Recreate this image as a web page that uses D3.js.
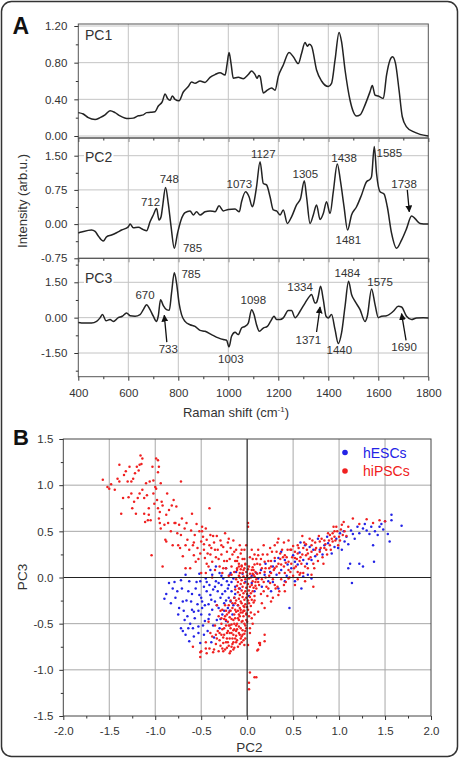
<!DOCTYPE html>
<html>
<head>
<meta charset="utf-8">
<script src="https://cdn.jsdelivr.net/npm/d3@7"></script>
<style>
  body { margin: 0; background: #fff; }
  svg { display: block; font-family: "Liberation Sans", Arial, sans-serif; }
</style>
</head>
<body>
<svg id="fig" width="461" height="759"></svg>
<script>
// ---- spectra: [Raman shift (cm-1), loading] ----
const pc1 = [[400,0.255],[420,0.24],[440,0.20],[467,0.18],[487,0.20],[507,0.23],[527,0.275],[547,0.255],[567,0.22],[600,0.19],[620,0.195],[640,0.22],[660,0.23],[673,0.255],[690,0.258],[707,0.265],[720,0.327],[736,0.375],[747,0.458],[757,0.41],[767,0.39],[776,0.436],[787,0.40],[803,0.385],[820,0.48],[840,0.54],[853,0.59],[867,0.575],[887,0.60],[907,0.585],[927,0.64],[947,0.67],[967,0.69],[987,0.665],[995,0.78],[1003,0.91],[1011,0.79],[1020,0.63],[1040,0.64],[1060,0.625],[1080,0.67],[1093,0.71],[1107,0.67],[1115,0.63],[1122,0.66],[1127,0.65],[1140,0.47],[1156,0.50],[1173,0.525],[1187,0.50],[1200,0.65],[1220,0.775],[1243,0.91],[1260,0.865],[1280,0.79],[1293,0.90],[1307,1.02],[1316,0.98],[1324,1.0],[1333,0.98],[1353,0.72],[1373,0.60],[1400,0.54],[1413,0.575],[1427,0.83],[1443,1.13],[1453,1.03],[1467,0.72],[1487,0.39],[1500,0.265],[1513,0.218],[1527,0.23],[1547,0.34],[1567,0.484],[1576,0.55],[1587,0.447],[1600,0.436],[1620,0.41],[1633,0.665],[1647,0.83],[1657,0.865],[1669,0.79],[1683,0.50],[1696,0.21],[1713,0.10],[1740,0.047],[1767,0.018],[1800,0.0]];

const pc2 = [[400,-0.195],[413,-0.175],[453,-0.13],[467,-0.16],[480,-0.26],[500,-0.37],[513,-0.28],[533,-0.24],[553,-0.19],[573,-0.13],[600,-0.06],[607,0.0],[620,-0.08],[640,-0.07],[660,-0.12],[673,-0.146],[687,0.05],[700,0.2],[713,0.34],[723,0.09],[731,0.16],[737,0.38],[749,0.80],[760,0.45],[771,-0.05],[784,-0.53],[797,-0.2],[811,0.09],[827,0.25],[847,0.29],[860,0.2],[873,0.27],[887,0.2],[907,0.27],[927,0.29],[947,0.27],[963,0.40],[980,0.29],[1000,0.32],[1027,0.33],[1044,0.27],[1053,0.49],[1069,0.71],[1083,0.6],[1096,0.38],[1100,0.42],[1113,0.82],[1127,1.37],[1140,0.89],[1153,0.86],[1167,0.6],[1180,0.31],[1193,0.29],[1207,0.2],[1220,0.31],[1236,0.015],[1253,0.16],[1273,0.42],[1289,0.56],[1304,0.95],[1313,0.6],[1327,0.015],[1340,0.2],[1353,0.42],[1367,0.1],[1380,0.23],[1393,0.49],[1407,0.23],[1420,0.71],[1436,1.32],[1449,0.93],[1463,0.38],[1477,-0.13],[1493,0.2],[1513,0.38],[1533,0.64],[1553,0.93],[1567,0.98],[1573,1.04],[1584,1.70],[1593,1.11],[1607,0.71],[1623,0.66],[1636,0.38],[1653,-0.2],[1673,-0.53],[1693,-0.35],[1713,-0.1],[1733,0.18],[1747,0.12],[1767,0.015],[1800,0.0]];

const pc3 = [[400,-0.21],[413,-0.23],[453,-0.23],[473,-0.16],[487,-0.01],[497,0.13],[511,-0.13],[527,-0.08],[540,-0.16],[560,0.0],[576,0.06],[593,0.2],[607,0.08],[627,0.06],[647,0.13],[660,0.34],[673,0.55],[687,0.34],[700,0.06],[713,-0.16],[720,0.08],[729,0.76],[740,0.51],[753,0.34],[764,0.31],[773,1.05],[784,1.9],[793,1.47],[803,0.62],[813,0.13],[827,-0.16],[847,-0.3],[867,-0.37],[887,-0.54],[907,-0.58],[933,-0.72],[960,-0.86],[980,-0.93],[993,-0.96],[1003,-1.24],[1013,-0.79],[1027,-0.62],[1040,-0.72],[1053,-0.44],[1067,-0.37],[1080,-0.23],[1093,0.34],[1103,0.13],[1113,-0.3],[1124,-0.58],[1140,-0.44],[1156,-0.37],[1169,-0.16],[1183,0.06],[1193,-0.08],[1207,-0.08],[1220,-0.01],[1240,0.3],[1253,0.3],[1267,0.0],[1287,0.27],[1307,0.62],[1327,0.93],[1333,0.98],[1347,0.62],[1353,0.65],[1360,0.9],[1369,1.33],[1380,0.76],[1391,0.06],[1400,-0.01],[1413,0.13],[1427,-0.51],[1440,-1.1],[1453,-0.65],[1467,0.48],[1481,1.54],[1493,0.98],[1507,0.69],[1527,0.34],[1547,-0.16],[1556,0.06],[1573,1.22],[1587,0.55],[1600,0.0],[1613,0.06],[1633,0.08],[1660,0.27],[1680,0.48],[1693,0.45],[1713,0.06],[1733,-0.08],[1753,-0.01],[1780,0.0],[1800,-0.01]];

// peak labels, placed in data space [text, shift, loading]
const pc2Peaks = [['712',689,0.49],['748',764,0.99],['785',857,-0.53],['1073',1044,0.89],['1127',1140,1.53],['1305',1308,1.11],['1438',1463,1.46],['1481',1480,-0.34],['1585',1644,1.57],['1738',1703,0.88]];
const pc3Peaks = [['670',667,0.95],['733',760,-1.32],['785',851,1.87],['1003',1010,-1.74],['1098',1100,0.74],['1334',1287,1.30],['1371',1320,-0.94],['1440',1444,-1.39],['1484',1476,1.9],['1575',1607,1.51],['1690',1703,-1.25]];
// arrows [from shift, from loading, to shift, to loading]
const pc2Arrows = [[1716,0.75,1724,0.27]];
const pc3Arrows = [[754,-1.04,744,0.1],[1353,-0.61,1367,0.45],[1711,-0.96,1693,0.17]];

// ---- scores: [PC2, PC3] ----
const hescPts = [[1.57,0.68],[1.57,0.62],[1.68,0.56],[1.50,0.61],[1.44,0.55],[1.39,0.50],[1.35,0.55],[1.30,0.51],[1.26,0.53],[1.22,0.48],[1.42,0.46],[1.53,0.47],[1.55,0.39],[1.37,0.35],[1.38,0.17],[1.26,0.12],[1.22,0.15],[1.12,0.15],[1.10,0.10],[1.14,-0.06],[1.17,0.42],[1.06,0.39],[1.03,0.30],[0.99,0.32],[0.95,0.33],[0.92,0.26],[0.84,0.35],[0.79,0.30],[0.74,0.23],[0.70,0.19],[0.63,0.35],[0.61,0.19],[0.55,0.14],[0.52,0.17],[0.48,0.10],[0.46,-0.33],[0.41,0.19],[0.37,0.08],[0.34,0.21],[0.32,0.03],[0.28,0.12],[0.25,0.06],[0.23,-0.04],[0.19,0.03],[0.16,-0.10],[0.12,-0.01],[0.08,-0.15],[0.05,-0.06],[0.70,-0.01],[0.61,0.01],[0.59,-0.12],[0.66,0.03],[0.52,-0.04],[0.41,-0.04],[0.34,-0.12],[0.26,-0.15],[0.37,0.28],[0.77,0.42],[0.88,0.37],[1.01,0.48],[1.13,0.51],
  [1.05,0.50],[1.08,0.44],[1.15,0.47],[1.20,0.55],[1.28,0.58],[1.33,0.47],[1.46,0.58],[1.48,0.52],[1.10,0.36],[0.97,0.42],
  [0.20,0.15],[0.30,0.18],[0.44,0.14],[0.50,0.24],[0.57,0.27],[0.65,0.15],[0.72,0.30],[0.82,0.25],[0.87,0.44],[0.15,0.08],[0.10,0.05],[0.28,-0.05],[0.43,0.02],[0.58,0.38],[0.68,0.33],
  [-0.85,-0.06],[-0.90,-0.23],[-0.81,-0.12],[-0.76,-0.15],[-0.74,-0.33],[-0.72,-0.55],[-0.70,-0.58],[-0.67,-0.62],[-0.68,-0.46],[-0.65,-0.42],[-0.64,-0.15],[-0.63,-0.04],[-0.61,-0.26],[-0.59,-0.55],[-0.58,-0.37],[-0.56,-0.12],[-0.54,-0.29],[-0.53,-0.53],[-0.52,-0.19],[-0.51,-0.04],[-0.50,-0.40],[-0.49,-0.33],[-0.49,-0.26],[-0.47,-0.10],[-0.46,-0.47],[-0.45,-0.01],[-0.44,-0.15],[-0.43,-0.58],[-0.42,-0.29],[-0.41,-0.08],[-0.41,-0.40],[-0.40,-0.19],[-0.38,0.03],[-0.38,-0.35],[-0.37,-0.13],[-0.36,-0.65],[-0.35,-0.26],[-0.34,-0.04],[-0.33,-0.46],[-0.32,-0.15],[-0.31,-0.33],[-0.30,0.05],[-0.30,-0.55],[-0.29,-0.22],[-0.28,-0.08],[-0.27,-0.40],[-0.26,-0.01],[-0.25,-0.28],[-0.24,-0.15],[-0.23,-0.47],[-0.22,-0.04],[-0.21,-0.33],[-0.20,-0.22],[-0.20,-0.08],[-0.19,0.03],[-0.18,-0.26],[-0.17,-0.15],[-0.16,-0.40],[-0.15,-0.01],[-0.14,-0.22],[-0.13,-0.10],[-0.12,0.06],[-0.70,-0.26],[-0.78,-0.22],[-0.58,-0.64],[-0.63,-0.69],[-0.67,0.03],[-0.72,-0.03],[-0.34,0.12],[-0.23,0.10],[-0.18,0.05],
  [-0.08,-0.12],[-0.05,0.04],[0.02,-0.20],[-0.10,-0.30],[0.05,0.02],[-0.02,-0.05],[-0.51,-0.71],[-0.39,-0.70],
  [-0.88,-0.18],[-0.83,-0.28],[-0.79,-0.05],[-0.75,-0.40],[-0.71,-0.12],[-0.69,-0.36],[-0.66,-0.25],[-0.62,-0.50],[-0.60,-0.18],[-0.57,-0.44],[-0.55,-0.05],[-0.53,-0.36],[-0.50,-0.22],[-0.48,-0.52],[-0.46,-0.30],[-0.44,-0.05],[-0.42,-0.45],[-0.39,-0.24],[-0.37,-0.52],[-0.35,-0.10],[-0.33,-0.30],[-0.31,-0.06],[-0.29,-0.45],[-0.27,-0.18],[-0.25,-0.36],[-0.23,-0.25],[-0.21,-0.12],[-0.19,-0.36],[-0.17,-0.05],[-0.15,-0.30],[-0.13,-0.18],[-0.47,-0.62],[-0.53,-0.60],[-0.60,-0.35],[-0.64,-0.55],[-0.40,0.08],[-0.28,0.02],[-0.52,0.04]];

const hipscPts = [[-1.57,1.06],[-1.52,0.98],[-1.50,0.96],[-1.48,1.01],[-1.44,0.95],[-1.41,1.07],[-1.39,1.22],[-1.39,1.04],[-1.37,0.69],[-1.35,0.86],[-1.34,1.11],[-1.32,1.15],[-1.30,1.04],[-1.29,0.87],[-1.28,1.20],[-1.26,1.04],[-1.26,0.91],[-1.25,0.75],[-1.24,1.07],[-1.23,0.82],[-1.22,1.13],[-1.21,0.69],[-1.20,1.20],[-1.19,0.86],[-1.18,1.16],[-1.17,0.91],[-1.17,1.22],[-1.16,1.32],[-1.15,1.23],[-1.14,1.29],[-1.14,0.95],[-1.12,0.86],[-1.12,0.69],[-1.11,0.60],[-1.10,1.02],[-1.09,0.89],[-1.08,0.62],[-1.07,0.68],[-1.07,0.75],[-1.06,1.04],[-1.05,0.62],[-1.04,0.24],[-1.03,1.20],[-1.02,1.05],[-1.02,0.91],[-1.01,0.80],[-1.00,0.98],[-0.99,1.29],[-0.99,0.96],[-0.98,0.84],[-0.97,0.75],[-0.97,1.14],[-0.97,1.27],[-0.96,1.20],[-0.96,0.64],[-0.95,0.59],[-0.95,0.71],[-0.94,1.02],[-0.94,0.53],[-0.93,0.82],[-0.92,0.78],[-0.92,0.12],[-0.90,0.57],[-0.89,0.41],[-0.88,0.68],[-0.88,0.39],[-0.87,0.91],[-0.86,0.59],[-0.85,0.73],[-0.83,0.50],[-0.82,0.78],[-0.81,0.35],[-0.80,0.84],[-0.79,0.59],[-0.78,0.59],[-0.77,0.77],[-0.76,0.48],[-0.75,0.35],[-0.74,0.57],[-0.73,0.32],[-0.72,1.04],[-0.72,0.46],[-0.71,0.64],[-0.70,0.23],[-0.68,0.53],[-0.67,0.35],[-0.67,0.10],[-0.66,0.59],[-0.65,0.41],[-0.63,0.30],[-0.61,0.51],[-0.60,0.69],[-0.59,0.35],[-0.58,0.24],[-0.57,0.46],[-0.56,0.17],[-0.55,0.58],[-0.54,0.32],[-0.52,0.50],[-0.51,0.26],[-0.50,0.39],[-0.49,0.55],[-0.49,0.50],[-0.48,0.44],[-0.47,0.30],[-0.46,0.21],[-0.45,0.53],[-0.44,0.41],[-0.43,0.26],[-0.41,0.35],[-0.41,0.75],[-0.40,0.46],[-0.39,0.32],[-0.38,0.17],
  [-0.36,0.38],[-0.34,0.22],[-0.33,0.45],[-0.32,0.30],[-0.30,0.12],[-0.29,0.40],[-0.28,0.25],[-0.27,0.05],[-0.26,0.33],[-0.25,0.18],[-0.24,0.48],[-0.23,0.10],[-0.22,0.28],[-0.21,0.38],[-0.20,0.02],[-0.19,0.20],[-0.18,0.32],[-0.17,0.12],[-0.16,0.25],[-0.15,0.40],[-0.14,0.06],[-0.13,0.18],[-0.12,0.30],[-0.11,0.10],[-0.10,0.22],[-0.09,0.15],[-0.08,0.35],[-0.08,0.05],[-0.07,0.26],[-0.06,0.12],[-0.05,0.20],[-0.04,0.08],[-0.03,0.30],[-0.02,0.15],[0.01,0.55],[-0.45,0.05],[-0.42,0.12],[-0.38,0.0],[-0.35,0.08],
  [-0.62,0.10],[-0.58,0.38],[-0.53,0.20],[-0.50,0.05],[-0.47,0.36],[-0.44,0.15],[-0.40,0.25],[-0.37,0.45],[-0.35,0.30],[-0.31,0.20],[-0.28,0.35],[-0.26,0.10],[-0.22,0.18],[-0.20,0.42],[-0.17,0.03],[-0.14,0.28],[-0.11,0.18],[-0.06,0.30],[-0.03,0.20],[-0.01,0.35],
  [-0.11,0.08],[-0.09,0.02],[-0.07,0.09],[-0.05,0.05],[-0.03,0.10],[-0.01,0.06],[0.01,0.09],[0.03,0.04],[0.05,0.08],[0.07,0.03],[0.09,0.06],[-0.12,-0.02],[-0.10,-0.05],[-0.08,0.00],[-0.06,-0.03],[-0.04,0.01],[-0.02,-0.02],[0.00,0.02],[0.02,-0.01],[0.04,0.00],[0.06,-0.04],[0.08,0.01],[0.10,-0.02],[-0.11,-0.09],[-0.09,-0.12],[-0.07,-0.07],[-0.05,-0.10],[-0.03,-0.06],[-0.01,-0.11],[0.01,-0.07],[0.03,-0.10],[0.05,-0.08],[0.07,-0.11],[-0.10,-0.16],[-0.08,-0.19],[-0.06,-0.14],[-0.04,-0.17],[-0.02,-0.15],[0.00,-0.18],[0.02,-0.14],[0.04,-0.17],[0.06,-0.15],[-0.09,-0.23],[-0.07,-0.26],[-0.05,-0.21],[-0.03,-0.24],[-0.01,-0.22],[0.01,-0.25],[0.03,-0.21],[0.05,-0.24],[-0.10,-0.30],[-0.08,-0.33],[-0.06,-0.28],[-0.04,-0.31],[-0.02,-0.29],[0.00,-0.32],[0.02,-0.28],[0.04,-0.31],[-0.12,-0.37],[-0.09,-0.40],[-0.07,-0.35],[-0.05,-0.38],[-0.03,-0.36],[-0.01,-0.39],[0.01,-0.35],[-0.06,0.13],[-0.02,0.14],[0.02,0.12],[0.06,0.11],[-0.09,0.12],[-0.13,-0.13],[-0.14,-0.22],[-0.13,-0.28],[0.08,-0.20],[0.07,-0.27],[0.09,-0.09],[0.11,0.04],[0.12,-0.05],
  [-0.30,-0.60],[-0.28,-0.50],[-0.26,-0.65],[-0.25,-0.55],[-0.24,-0.42],[-0.23,-0.70],[-0.22,-0.60],[-0.21,-0.48],[-0.20,-0.38],[-0.19,-0.66],[-0.18,-0.55],[-0.17,-0.45],[-0.16,-0.72],[-0.15,-0.62],[-0.14,-0.50],[-0.13,-0.35],[-0.12,-0.58],[-0.11,-0.68],[-0.10,-0.44],[-0.09,-0.53],[-0.08,-0.62],[-0.07,-0.38],[-0.06,-0.48],[-0.05,-0.57],[-0.04,-0.42],[-0.03,-0.32],[-0.02,-0.52],[-0.01,-0.40],[-0.34,-0.72],[-0.36,-0.78],[-0.33,-0.66],[-0.31,-0.80],[-0.29,-0.74],[-0.27,-0.77],[-0.24,-0.78],[-0.20,-0.74],[-0.18,-0.80],[-0.14,-0.76],[-0.10,-0.75],[-0.06,-0.70],[-0.02,-0.66],[0.03,-0.60],[0.06,-0.50],[0.08,-0.40],[-0.40,-0.60],[-0.42,-0.48],[-0.45,-0.70],[-0.50,-0.80],
  [-0.27,-0.35],[-0.25,-0.45],[-0.23,-0.52],[-0.21,-0.58],[-0.19,-0.43],[-0.17,-0.51],[-0.15,-0.57],[-0.13,-0.44],[-0.11,-0.50],[-0.09,-0.60],[-0.07,-0.55],[-0.05,-0.47],[-0.03,-0.61],[-0.01,-0.55],[-0.16,-0.66],[-0.12,-0.70],[-0.08,-0.72],[-0.22,-0.66],[-0.26,-0.71],[-0.30,-0.68],[-0.32,-0.58],[-0.20,-0.30],[-0.16,-0.33],[-0.14,-0.40],[-0.18,-0.25],[-0.22,-0.40],[-0.12,-0.63],[-0.06,-0.64],[-0.04,-0.68],[-0.28,-0.62],
  [-0.33,-0.30],[-0.31,-0.42],[-0.29,-0.36],[-0.27,-0.56],[-0.25,-0.62],[-0.23,-0.36],[-0.21,-0.70],[-0.19,-0.52],[-0.17,-0.60],[-0.15,-0.46],[-0.13,-0.66],[-0.11,-0.56],[-0.09,-0.46],[-0.07,-0.66],[-0.05,-0.62],[-0.03,-0.50],[-0.01,-0.46],[-0.15,-0.70],[-0.19,-0.60],[-0.23,-0.46],[-0.28,-0.44],[-0.35,-0.52],[-0.38,-0.64],[-0.34,-0.62],[-0.26,-0.80],[-0.22,-0.76],[-0.12,-0.52],[-0.08,-0.42],[-0.04,-0.36],[-0.10,-0.36],[-0.16,-0.28],[-0.12,-0.25],[-0.02,-0.58],[0.00,-0.48],[0.02,-0.42],[0.04,-0.38],[-0.18,-0.36],[-0.24,-0.30],[-0.20,-0.52],[-0.14,-0.56],
  [0.10,0.20],[0.14,0.05],[0.15,0.20],[0.18,-0.05],[0.20,0.10],[0.22,0.25],[0.24,0.02],[0.26,0.18],[0.28,-0.02],[0.30,0.10],[0.32,0.28],[0.33,-0.10],[0.35,0.05],[0.36,0.20],[0.38,0.30],[0.40,0.12],[0.42,-0.05],[0.43,0.22],[0.45,0.08],[0.47,0.30],[0.48,0.15],[0.50,0.02],[0.52,0.28],[0.53,0.12],[0.55,0.35],[0.57,0.18],[0.58,0.05],[0.60,0.25],[0.62,0.38],[0.63,0.12],[0.65,0.30],[0.67,0.20],[0.68,0.42],[0.70,0.28],[0.72,0.15],[0.74,0.38],[0.76,0.25],[0.78,0.45],[0.80,0.32],[0.82,0.22],[0.84,0.40],[0.86,0.30],[0.88,0.48],[0.90,0.35],[0.92,0.42],[0.94,0.55],[0.96,0.40],[0.98,0.50],[1.00,0.44],[1.02,0.52],[1.05,0.60],[1.08,0.45],[0.12,0.30],[0.06,0.20],[0.08,-0.25],[0.15,-0.18],[0.22,-0.20],[0.28,-0.22],[0.35,-0.15],[0.18,0.35],[0.25,0.32],[0.40,0.38],[0.10,-0.12],[0.16,-0.28],[0.05,0.30],[0.03,0.22],[0.20,0.00],[0.55,-0.02],[0.45,0.40],[0.60,0.45],[0.30,0.35],
  [0.07,0.08],[0.09,-0.05],[0.11,0.15],[0.13,-0.08],[0.17,0.25],[0.19,0.06],[0.21,-0.10],[0.23,0.18],[0.25,-0.06],[0.27,0.28],[0.29,0.08],[0.31,-0.12],[0.34,0.15],[0.37,-0.02],[0.39,0.22],[0.41,0.05],[0.44,0.30],[0.46,0.00],[0.49,0.22],[0.51,0.10],[0.54,0.20],[0.56,0.32],[0.59,0.15],[0.61,0.05],[0.64,0.36],[0.66,0.10],[0.69,0.22],[0.71,0.40],[0.73,0.10],[0.75,0.32],[0.77,0.18],[0.79,0.28],[0.81,0.42],[0.83,0.15],[0.85,0.36],[0.87,0.25],[0.89,0.40],[0.91,0.30],[0.93,0.48],[0.95,0.44],[0.97,0.55],[1.01,0.40],[1.04,0.46],[0.16,-0.02],[0.14,0.14],[0.24,0.10],[0.32,0.12],[0.06,0.04],[0.08,0.25],[0.18,-0.15],[0.26,0.05],[0.36,0.26],[0.42,0.16],[0.50,0.34],[0.58,0.22],[0.66,0.26],[0.40,-0.08],[0.47,0.06],[0.33,0.38],
  [1.15,0.64],[1.30,0.63],[1.44,0.62],[1.50,0.61],[1.03,0.57],[1.10,0.55],[1.22,0.58],[1.37,0.59],[0.95,0.50],[1.06,0.50],[0.99,0.35],[0.90,0.46],[0.93,0.39],[0.84,0.32],[0.79,0.39],[0.70,0.35],[0.74,0.30],[0.64,0.24],[0.61,0.32],[0.55,0.26],[0.52,0.21],[0.48,0.30],[0.45,0.17],[0.41,0.24],[0.37,0.14],[0.30,0.21],[0.26,0.12],[0.19,0.17],[0.16,0.10],[0.12,0.24],[0.08,0.14],[0.70,0.03],[0.63,-0.04],[0.52,-0.08],[0.41,-0.15],[0.34,-0.19],[0.26,-0.26],[0.19,-0.33],[0.12,-0.37],[0.45,-0.01],[0.55,0.06],[0.30,-0.08],[0.23,-0.12],[0.01,0.59],[0.34,0.42],[0.05,-0.44],[0.03,-0.55],[0.19,-0.62],[0.14,-0.71],[0.12,-0.78],[0.01,-0.73],[0.03,-1.03],[0.10,-1.08],[0.08,-1.08],[0.02,-1.14],[0.02,-1.21],[0.72,-0.10],[0.57,0.03],
  [-0.59,-0.75],[-0.51,-0.81],[-0.51,-0.86],[-0.45,-0.77],[-0.44,-0.82],[-0.37,-0.81],[-0.41,-0.77],[-0.19,-0.82],[-0.17,-0.75],[-0.15,-0.78],[-0.03,-0.73],[0.13,-0.71],[0.14,-0.73],[0.19,-0.69],[0.11,-0.79]];

const shiftTicks = [400, 600, 800, 1000, 1200, 1400, 1600, 1800];
const scoreTicks = [-2.0, -1.5, -1.0, -0.5, 0.0, 0.5, 1.0, 1.5, 2.0];
const legendNames = ['hESCs', 'hiPSCs'];
const legendColors = ['#2323e6', '#f02020'];

const svg = d3.select('#fig');
const ink = '#333';
const gridColor = '#c4c4c4';
const fmt2 = (d) => d.toFixed(2);
const fmt1 = (d) => d.toFixed(1);

// outer rounded frame
svg.append('rect')
  .attr('x', 1.5).attr('y', 1.5)
  .attr('width', 456).attr('height', 755)
  .attr('rx', 10)
  .attr('fill', 'none')
  .attr('stroke', ink)
  .attr('stroke-width', 1.5);

// arrow head
svg.append('defs').append('marker')
  .attr('id', 'head')
  .attr('viewBox', '0 0 10 10')
  .attr('refX', 9).attr('refY', 5)
  .attr('markerWidth', 7).attr('markerHeight', 7)
  .attr('markerUnits', 'userSpaceOnUse')
  .attr('orient', 'auto')
  .append('path')
  .attr('d', 'M0,0 L10,5 L0,10 Z')
  .attr('fill', '#111');

/* ---------------- panel A: loadings ---------------- */
const x = d3.scaleLinear().domain([400, 1800]).range([78.3, 428.3]);

const panels = [
  { name: 'PC1', data: pc1, domain: [0, 1.2], range: [136, 26], top: 24, bottom: 138,
    major: [0, 0.4, 0.8, 1.2], minor: [0.2, 0.6, 1.0], labelY: 39.5, peaks: [], arrows: [] },
  { name: 'PC2', data: pc2, domain: [-0.75, 1.5], range: [258.3, 155.7], top: 138, bottom: 258.3,
    major: [-0.75, 0, 0.75, 1.5], minor: [-0.375, 0.375, 1.125], labelY: 161.5, peaks: pc2Peaks, arrows: pc2Arrows },
  { name: 'PC3', data: pc3, domain: [-1.5, 1.5], range: [353, 282.3], top: 258.3, bottom: 376.7,
    major: [-1.5, 0, 1.5], minor: [-2.25, -0.75, 0.75, 2.25], labelY: 283, peaks: pc3Peaks, arrows: pc3Arrows },
];

panels.forEach((p, i) => {
  const y = d3.scaleLinear().domain(p.domain).range(p.range);
  const g = svg.append('g').attr('class', 'panel');
  const [x0, x1] = x.range();

  // grid
  g.append('g')
    .selectAll('line')
    .data(shiftTicks.slice(1, -1))
    .join('line')
    .attr('x1', (d) => x(d)).attr('x2', (d) => x(d))
    .attr('y1', p.top).attr('y2', p.bottom)
    .attr('stroke', gridColor);
  g.append('g')
    .selectAll('line')
    .data(p.major.filter((d) => y(d) > p.top + 1 && y(d) < p.bottom - 1))
    .join('line')
    .attr('x1', x0).attr('x2', x1)
    .attr('y1', (d) => y(d)).attr('y2', (d) => y(d))
    .attr('stroke', gridColor);

  // frame
  g.append('rect')
    .attr('x', x0).attr('y', p.top)
    .attr('width', x1 - x0).attr('height', p.bottom - p.top)
    .attr('fill', 'none')
    .attr('stroke', '#555');

  // left axis, major + minor
  g.append('g')
    .attr('transform', `translate(${x0},0)`)
    .call(d3.axisLeft(y).tickValues(p.major).tickSize(4).tickPadding(7).tickFormat(fmt2))
    .call((a) => a.select('.domain').remove());
  g.append('g')
    .attr('transform', `translate(${x0},0)`)
    .call(d3.axisLeft(y).tickValues(p.minor.filter((d) => y(d) > p.top && y(d) < p.bottom))
      .tickSize(2.5).tickFormat(''))
    .call((a) => a.select('.domain').remove());

  // bottom axis, labels only on the last panel
  const last = i === panels.length - 1;
  g.append('g')
    .attr('transform', `translate(0,${p.bottom})`)
    .call(d3.axisBottom(x).tickValues(shiftTicks).tickSize(4).tickPadding(8.5)
      .tickFormat(last ? d3.format('d') : ''))
    .call((a) => a.select('.domain').remove());
  g.append('g')
    .attr('transform', `translate(0,${p.bottom})`)
    .call(d3.axisBottom(x).tickValues(d3.range(500, 1800, 200)).tickSize(2.5).tickFormat(''))
    .call((a) => a.select('.domain').remove());

  // spectrum
  g.append('path')
    .datum(p.data)
    .attr('d', d3.line().x((d) => x(d[0])).y((d) => y(d[1])).curve(d3.curveMonotoneX))
    .attr('fill', 'none')
    .attr('stroke', '#232323')
    .attr('stroke-width', 1.5)
    .attr('stroke-linejoin', 'round');

  // panel name with white backing
  const backing = g.append('rect').attr('fill', '#fff');
  const lbl = g.append('text')
    .attr('x', 85).attr('y', p.labelY)
    .attr('font-size', 14)
    .attr('fill', ink)
    .text(p.name);
  const bb = lbl.node().getBBox();
  backing
    .attr('x', bb.x - 1).attr('y', bb.y + 1)
    .attr('width', bb.width + 2).attr('height', bb.height - 2);

  // peak labels and arrows
  g.selectAll('text.peak')
    .data(p.peaks)
    .join('text')
    .attr('class', 'peak')
    .attr('x', (d) => x(d[1]))
    .attr('y', (d) => y(d[2]))
    .attr('dy', '0.35em')
    .attr('text-anchor', 'middle')
    .attr('font-size', 11.5)
    .attr('fill', ink)
    .text((d) => d[0]);
  g.selectAll('line.arrow')
    .data(p.arrows)
    .join('line')
    .attr('class', 'arrow')
    .attr('x1', (d) => x(d[0])).attr('y1', (d) => y(d[1]))
    .attr('x2', (d) => x(d[2])).attr('y2', (d) => y(d[3]))
    .attr('stroke', '#111')
    .attr('stroke-width', 1.3)
    .attr('marker-end', 'url(#head)');
});

svg.selectAll('.tick text').attr('font-size', 11.5).attr('fill', ink)
  .attr('font-family', '"Liberation Sans", Arial, sans-serif');
svg.selectAll('.tick line').attr('stroke', ink);

// titles of panel A
svg.append('text')
  .attr('transform', 'translate(27,201) rotate(-90)')
  .attr('text-anchor', 'middle')
  .attr('font-size', 13)
  .attr('fill', ink)
  .text('Intensity (arb.u.)');
svg.append('text')
  .attr('x', 236).attr('y', 417)
  .attr('text-anchor', 'middle')
  .attr('font-size', 13)
  .attr('fill', ink)
  .call((t) => t.append('tspan').text('Raman shift (cm'))
  .call((t) => t.append('tspan').attr('font-size', 8).attr('dy', -5).text('-1'))
  .call((t) => t.append('tspan').attr('dy', 5).text(')'));
svg.append('text')
  .attr('x', 12.5).attr('y', 33.5)
  .attr('font-size', 23).attr('font-weight', 'bold')
  .attr('fill', '#111')
  .text('A');

/* ---------------- panel B: scores ---------------- */
const sx = d3.scaleLinear().domain([-2, 2]).range([63.3, 431]);
const sy = d3.scaleLinear().domain([-1.5, 1.5]).range([716, 439]);
const gb = svg.append('g').attr('class', 'scores');

gb.append('g')
  .selectAll('line')
  .data(scoreTicks.slice(1, -1).filter((d) => d !== 0))
  .join('line')
  .attr('x1', (d) => sx(d)).attr('x2', (d) => sx(d))
  .attr('y1', sy(1.5)).attr('y2', sy(-1.5))
  .attr('stroke', '#a8a8a8');
gb.append('g')
  .selectAll('line')
  .data([-1.0, -0.5, 0.5, 1.0])
  .join('line')
  .attr('x1', sx(-2)).attr('x2', sx(2))
  .attr('y1', (d) => sy(d)).attr('y2', (d) => sy(d))
  .attr('stroke', '#a8a8a8');

// points: hESCs underneath, hiPSCs on top
[hescPts, hipscPts].forEach((pts, k) => {
  gb.append('g')
    .selectAll('circle')
    .data(pts)
    .join('circle')
    .attr('cx', (d) => sx(d[0]))
    .attr('cy', (d) => sy(d[1]))
    .attr('r', 1.25)
    .attr('fill', legendColors[k]);
});

// zero lines
gb.append('line')
  .attr('x1', sx(0)).attr('x2', sx(0))
  .attr('y1', sy(1.5)).attr('y2', sy(-1.5))
  .attr('stroke', '#222').attr('stroke-width', 1.2);
gb.append('line')
  .attr('x1', sx(-2)).attr('x2', sx(2))
  .attr('y1', sy(0)).attr('y2', sy(0))
  .attr('stroke', '#222').attr('stroke-width', 1.2);

gb.append('rect')
  .attr('x', sx(-2)).attr('y', sy(1.5))
  .attr('width', sx(2) - sx(-2)).attr('height', sy(-1.5) - sy(1.5))
  .attr('fill', 'none')
  .attr('stroke', '#444');

gb.append('g')
  .attr('transform', `translate(0,${sy(-1.5)})`)
  .call(d3.axisBottom(sx).tickValues(scoreTicks).tickSize(4).tickPadding(7).tickFormat(fmt1))
  .call((a) => a.select('.domain').remove());
gb.append('g')
  .attr('transform', `translate(0,${sy(-1.5)})`)
  .call(d3.axisBottom(sx).tickValues(d3.range(-1.75, 2, 0.5)).tickSize(2.5).tickFormat(''))
  .call((a) => a.select('.domain').remove());
gb.append('g')
  .attr('transform', `translate(${sx(-2)},0)`)
  .call(d3.axisLeft(sy).tickValues([-1.5, -1.0, -0.5, 0.0, 0.5, 1.0, 1.5]).tickSize(4).tickPadding(6).tickFormat(fmt1))
  .call((a) => a.select('.domain').remove());
gb.append('g')
  .attr('transform', `translate(${sx(-2)},0)`)
  .call(d3.axisLeft(sy).tickValues(d3.range(-1.25, 1.5, 0.5)).tickSize(2.5).tickFormat(''))
  .call((a) => a.select('.domain').remove());

gb.selectAll('.tick text').attr('font-size', 11.5).attr('fill', ink)
  .attr('font-family', '"Liberation Sans", Arial, sans-serif');
gb.selectAll('.tick line').attr('stroke', ink);

// legend
const legend = gb.append('g')
  .selectAll('g')
  .data(legendNames)
  .join('g')
  .attr('transform', (d, k) => `translate(345,${452.5 + k * 18.5})`);
legend.append('circle').attr('r', 2.8).attr('fill', (d, k) => legendColors[k]);
legend.append('text')
  .attr('x', 18).attr('dy', '0.36em')
  .attr('font-size', 14)
  .attr('fill', (d, k) => legendColors[k])
  .text((d) => d);

svg.append('text')
  .attr('x', 249.5).attr('y', 752)
  .attr('text-anchor', 'middle')
  .attr('font-size', 13.5)
  .attr('fill', ink)
  .text('PC2');
svg.append('text')
  .attr('transform', 'translate(27,577) rotate(-90)')
  .attr('text-anchor', 'middle')
  .attr('font-size', 13.5)
  .attr('fill', ink)
  .text('PC3');
svg.append('text')
  .attr('x', 13).attr('y', 445)
  .attr('font-size', 22).attr('font-weight', 'bold')
  .attr('fill', '#111')
  .text('B');
</script>
</body>
</html>
